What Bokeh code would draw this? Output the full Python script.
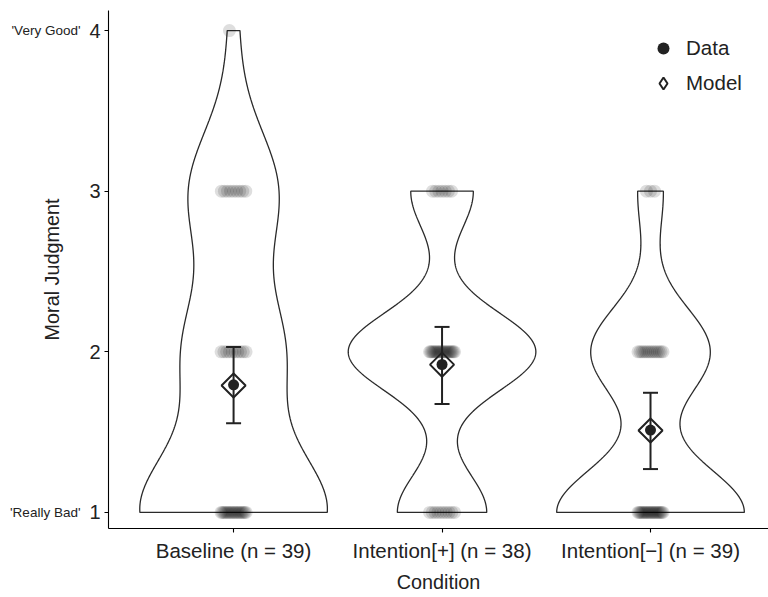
import numpy as np
from bokeh.plotting import figure
from bokeh.models import Range1d, FixedTicker, Legend, LegendItem, LinearAxis
from bokeh.embed import file_html
from bokeh.resources import INLINE

# ---------------- data ----------------
tick_labels = ["Baseline (n = 39)", "Intention[+] (n = 38)", "Intention[\u2212] (n = 39)"]
rating_levels = [1, 2, 3, 4]
counts_baseline = [19, 10, 9, 1]
counts_intention_plus = [10, 21, 7, 0]
counts_intention_minus = [22, 14, 3, 0]
model_mean = [1.79, 1.92, 1.51]
model_lower = [1.555, 1.675, 1.27]
model_upper = [2.03, 2.155, 1.745]
y_ticks = [1, 2, 3, 4]
anchor_values = [4, 1]
anchor_texts = ["'Very Good'", "'Really Bad'"]

FONT = "Liberation Sans"
INK = "#222222"

all_counts = [counts_baseline, counts_intention_plus, counts_intention_minus]
xpos = [1, 2, 3]


def expand(counts):
    return np.repeat(np.array(rating_levels, dtype=float), counts)


def bw_nrd0(x):
    sd = np.std(x, ddof=1)
    q75, q25 = np.percentile(x, [75, 25])
    lo = min(sd, (q75 - q25) / 1.34)
    if lo <= 0:
        lo = sd
    return 0.9 * lo * len(x) ** (-0.2)


p = figure(width=768, height=597, x_range=Range1d(0.4, 3.566), y_range=Range1d(0.9, 4.125),
           output_backend="svg", toolbar_location=None,
           min_border_left=108, min_border_right=0, min_border_top=10, min_border_bottom=69)
p.outline_line_color = None
p.xgrid.visible = False
p.ygrid.visible = False
p.background_fill_color = "white"
p.border_fill_color = "white"

# violins (Gaussian KDE, nrd0 bandwidth, trimmed, scaled to equal width)
for c, counts in zip(xpos, all_counts):
    x = expand(counts)
    bw = bw_nrd0(x)
    yg = np.linspace(x.min(), x.max(), 512)
    dens = np.exp(-0.5 * ((yg[:, None] - x[None, :]) / bw) ** 2).sum(axis=1)
    hw = 0.45 * dens / dens.max()
    xs = np.concatenate([c + hw, (c - hw)[::-1]])
    ys = np.concatenate([yg, yg[::-1]])
    p.patch(xs, ys, fill_color="white", line_color="#2a2a2a", line_width=1.3)

# raw data points, spread horizontally (deterministic)
px, py = [], []
for c, counts in zip(xpos, all_counts):
    for lvl, k in zip(rating_levels, counts):
        if k == 0:
            continue
        half = min(0.06, 0.0065 * k)
        offs = np.linspace(-half, half, k) if k > 1 else np.array([-0.02])
        px.extend(list(c + offs))
        py.extend([lvl] * k)
p.scatter(px, py, size=13, fill_color="black", fill_alpha=0.13, line_color=None)

# error bars (model intervals)
cap = 0.036
p.segment(x0=xpos, y0=model_lower, x1=xpos, y1=model_upper, line_color=INK, line_width=2)
p.segment(x0=[v - cap for v in xpos], y0=model_upper, x1=[v + cap for v in xpos], y1=model_upper,
          line_color=INK, line_width=2)
p.segment(x0=[v - cap for v in xpos], y0=model_lower, x1=[v + cap for v in xpos], y1=model_lower,
          line_color=INK, line_width=2)

# model diamonds
p.scatter(xpos, model_mean, marker="square", angle=np.pi / 4, size=17,
          fill_color=None, line_color=INK, line_width=2)

# data means
data_means = [float(expand(cn).mean()) for cn in all_counts]
r_data = p.scatter(xpos, data_means, marker="circle", size=11, fill_color=INK, line_color=None)

# legend-only renderer for Model
r_model_leg = p.scatter([np.nan], [np.nan], marker="diamond", size=17,
                        fill_color=None, line_color=INK, line_width=2)

legend = Legend(items=[LegendItem(label="Data", renderers=[r_data]),
                       LegendItem(label="Model", renderers=[r_model_leg])],
                location=(540, 430), glyph_width=30, glyph_height=30, label_standoff=8,
                spacing=5, padding=0, border_line_color=None, background_fill_alpha=0,
                label_text_font=FONT, label_text_font_size="20.5px", label_text_color=INK)
p.add_layout(legend)

# axes
p.xaxis.ticker = FixedTicker(ticks=xpos)
p.xaxis.major_label_overrides = {i: t for i, t in zip(xpos, tick_labels)}
p.yaxis.ticker = FixedTicker(ticks=y_ticks)
for ax in (p.xaxis[0], p.yaxis[0]):
    ax.axis_line_color = "black"
    ax.axis_line_width = 1.1
    ax.major_tick_line_color = "black"
    ax.major_tick_line_width = 1.1
    ax.major_tick_out = 4
    ax.major_tick_in = 0
    ax.minor_tick_line_color = None
    ax.major_label_text_font = FONT
    ax.major_label_text_color = INK
    ax.axis_label_text_font = FONT
    ax.axis_label_text_font_size = "19.8px"
    ax.axis_label_text_font_style = "normal"
    ax.axis_label_text_color = INK
p.xaxis.major_label_text_font_size = "20.5px"
p.yaxis.major_label_text_font_size = "20px"
p.xaxis.axis_label = "Condition"
p.xaxis.major_label_standoff = 6
p.xaxis.axis_label_standoff = 6
p.yaxis.major_label_standoff = 4

# outer left axis carrying the verbal anchors and the y title
anchor_axis = LinearAxis(ticker=FixedTicker(ticks=anchor_values),
                         major_label_overrides={v: t for v, t in zip(anchor_values, anchor_texts)},
                         axis_line_color=None, major_tick_line_color=None, minor_tick_line_color=None,
                         major_tick_out=0, major_tick_in=0, major_label_standoff=6,
                         major_label_text_font=FONT, major_label_text_font_size="13.5px",
                         major_label_text_color=INK,
                         axis_label="Moral Judgment", axis_label_standoff=-56,
                         axis_label_text_font=FONT, axis_label_text_font_size="19.8px",
                         axis_label_text_font_style="normal", axis_label_text_color=INK)
p.add_layout(anchor_axis, "left")

open("out.html", "w").write(file_html(p, INLINE))
